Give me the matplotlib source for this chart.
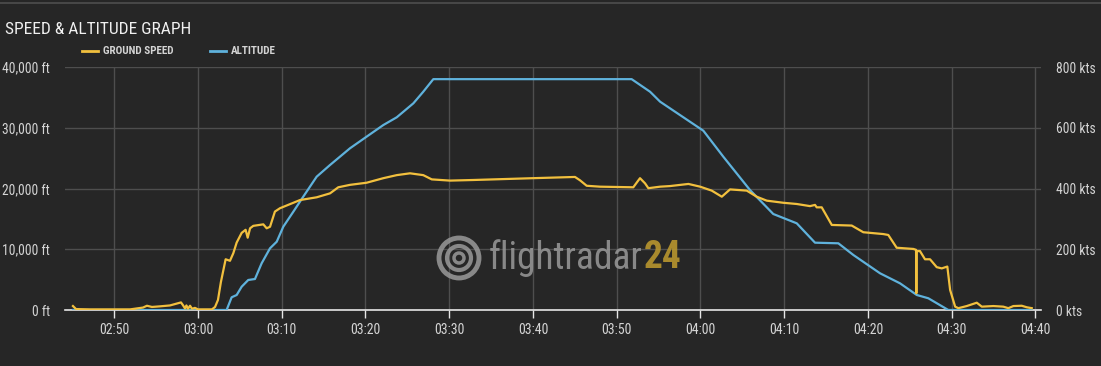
import matplotlib
matplotlib.use("Agg")
import matplotlib.pyplot as plt
import matplotlib.patches as mpatches
import pandas as pd
import logging
logging.getLogger('matplotlib.font_manager').setLevel(logging.ERROR)

FAM = ['Roboto Condensed', 'Roboto', 'DejaVu Sans']
plt.rcParams['font.family'] = FAM

DAY = "2020-01-01 "

speed_times = [
    "02:45:04", "02:45:26", "02:47:06", "02:51:53", "02:53:26", "02:53:54", "02:54:30",
    "02:55:27", "02:56:39", "02:57:58", "02:58:12", "02:58:27", "02:58:37", "02:58:48",
    "02:59:03", "02:59:17", "02:59:38", "03:00:00", "03:01:40", "03:02:02", "03:02:23",
    "03:02:44", "03:03:18", "03:03:49", "03:04:13", "03:04:37", "03:05:13", "03:05:41",
    "03:05:56", "03:06:13", "03:06:36", "03:07:48", "03:08:12", "03:08:36", "03:09:11",
    "03:09:47", "03:12:11", "03:14:10", "03:15:46", "03:16:45", "03:18:09", "03:20:08",
    "03:22:08", "03:23:44", "03:25:19", "03:26:54", "03:27:55", "03:30:06", "03:32:53",
    "03:40:02", "03:45:01", "03:45:37", "03:46:25", "03:48:00", "03:51:59", "03:52:26",
    "03:52:47", "03:53:23", "03:53:47", "03:55:11", "03:56:22", "03:58:34", "03:59:58",
    "04:01:21", "04:02:33", "04:03:32", "04:04:32", "04:05:32", "04:06:43", "04:07:55",
    "04:09:54", "04:11:30", "04:13:05", "04:13:41", "04:13:53", "04:14:29", "04:15:41",
    "04:18:04", "04:19:27", "04:21:50", "04:22:26", "04:23:26", "04:25:26", "04:25:45",
    "04:25:47", "04:25:49", "04:26:13", "04:26:49", "04:27:25", "04:28:13", "04:28:49",
    "04:29:29", "04:29:49", "04:30:25", "04:30:48", "04:31:48", "04:33:00", "04:33:36",
    "04:34:59", "04:36:10", "04:36:46", "04:37:22", "04:38:22", "04:38:58", "04:39:34",
]
speed_kts = [
    13, 3, 2, 2, 8, 14, 10,
    12, 15, 25, 16, 5, 15, 4,
    14, 4, 7, 2, 2, 10, 33,
    92, 167, 162, 187, 222, 254, 264,
    238, 269, 277, 282, 269, 274, 324,
    335, 362, 371, 384, 404, 412, 419,
    434, 444, 450, 444, 430, 426, 428,
    434, 438, 427, 409, 406, 404, 421,
    434, 417, 401, 406, 408, 415, 406,
    393, 373, 397, 395, 393, 373, 360,
    353, 349, 342, 346, 338, 338, 280,
    278, 256, 250, 247, 205, 201, 198,
    55, 194, 194, 167, 167, 141, 137,
    143, 66, 11, 6, 13, 24, 11,
    13, 11, 6, 13, 14, 9, 6,
]

alt_times = [
    "02:45:04", "03:03:25", "03:04:01", "03:04:37", "03:05:13", "03:06:00", "03:06:32",
    "03:06:48", "03:07:36", "03:08:36", "03:09:24", "03:10:11", "03:11:23", "03:12:34",
    "03:14:10", "03:15:46", "03:18:09", "03:20:08", "03:22:08", "03:23:44", "03:25:43",
    "03:26:54", "03:28:06", "03:51:47", "03:53:59", "03:55:11", "04:00:21", "04:02:44",
    "04:05:55", "04:08:42", "04:11:30", "04:13:41", "04:16:28", "04:18:16", "04:21:27",
    "04:23:50", "04:25:50", "04:27:13", "04:29:36", "04:39:34",
]
alt_ft = [
    0, 0, 2090, 2470, 3840, 4940, 5050,
    5100, 7690, 10160, 11240, 13710, 16180, 18650,
    21940, 23870, 26620, 28530, 30450, 31720, 34020,
    35930, 38000, 38000, 35930, 34290, 29510, 25230,
    19750, 15800, 14270, 11080, 10980, 9050, 6040,
    4390, 2470, 1930, 0, 0,
]

alt_ticks = [0, 10000, 20000, 30000, 40000]
alt_labels = ["0 ft", "10,000 ft", "20,000 ft", "30,000 ft", "40,000 ft"]
spd_ticks = [0, 200, 400, 600, 800]
spd_labels = ["0 kts", "200 kts", "400 kts", "600 kts", "800 kts"]
time_ticks = ["02:50", "03:00", "03:10", "03:20", "03:30", "03:40",
              "03:50", "04:00", "04:10", "04:20", "04:30", "04:40"]

BG = "#262626"
YEL = "#f2c03e"
BLU = "#5fb2dc"
GRID = "#4e4e4e"
TXT = "#d4d4d4"

st = pd.to_datetime([DAY + t for t in speed_times])
at = pd.to_datetime([DAY + t for t in alt_times])
tt = pd.to_datetime([DAY + t for t in time_ticks])

fig = plt.figure(figsize=(11.01, 3.66), dpi=100, facecolor=BG)
fig.patches.append(mpatches.Rectangle((0, 1 - 4 / 366), 1, 2 / 366, transform=fig.transFigure,
                                      facecolor="#474747", edgecolor="none"))

L, R, B, T = 65 / 1101, 1040.7 / 1101, (366 - 310) / 366, (366 - 67) / 366
ax = fig.add_axes([L, B, R - L, T - B])
ax.set_facecolor(BG)
ax2 = ax.twinx()

ax.set_ylim(0, 40000)
ax2.set_ylim(0, 800)
ax.set_xlim(pd.Timestamp(DAY + "02:44:07"), pd.Timestamp(DAY + "04:40:38"))

ax.set_yticks(alt_ticks)
ax.set_yticklabels(alt_labels)
ax2.set_yticks(spd_ticks)
ax2.set_yticklabels(spd_labels)
ax.set_xticks(tt)
ax.set_xticklabels(time_ticks)

ax.grid(True, color=GRID, linewidth=1.0)
ax.set_axisbelow(True)
for a in (ax, ax2):
    for s in a.spines.values():
        s.set_visible(False)
ax.spines['bottom'].set_visible(True)
ax.spines['bottom'].set_color("#e6e6e6")
ax.spines['bottom'].set_linewidth(1.2)

ax.tick_params(axis='x', colors="#e6e6e6", length=6, width=1, labelcolor=TXT, labelsize=10, pad=3)
ax.tick_params(axis='y', length=0, labelcolor=TXT, labelsize=9.8, pad=11)
ax2.tick_params(axis='y', length=0, labelcolor=TXT, labelsize=9.8, pad=11)

# watermark
wm = fig.text(489 / 1101, 1 - 258 / 366, "flightradar", fontsize=27, color="#9a9a9a", alpha=0.85,
              ha="left", va="center")
fig.canvas.draw()
bb = wm.get_window_extent(renderer=fig.canvas.get_renderer())
fig.text(bb.x1 / 1101 + 1 / 1101, 1 - 258 / 366, "24", fontsize=27, color="#b8962e", alpha=0.9,
         fontweight="bold", ha="left", va="center")
for r, lw in ((20, 3.5), (12, 3), (5, 2.5)):
    c = mpatches.Circle((459, 366 - 258), r, transform=None, fill=False,
                        edgecolor="#9a9a9a", linewidth=lw, alpha=0.85)
    fig.patches.append(c)

ax.plot(at, alt_ft, color=BLU, linewidth=1.6, zorder=3)
ax2.plot(st, speed_kts, color=YEL, linewidth=1.6, zorder=4)

fig.text(5 / 1101, 1 - 29 / 366, "SPEED & ALTITUDE GRAPH", fontsize=12.5, color="#f0f0f0",
         ha="left", va="center")
fig.lines.append(plt.Line2D([82 / 1101, 98 / 1101], [1 - 51 / 366] * 2, color=YEL, linewidth=2,
                            transform=fig.transFigure))
fig.text(103 / 1101, 1 - 51 / 366, "GROUND SPEED", fontsize=8, fontweight="bold", color=TXT,
         ha="left", va="center")
fig.lines.append(plt.Line2D([210 / 1101, 226 / 1101], [1 - 51 / 366] * 2, color=BLU, linewidth=2,
                            transform=fig.transFigure))
fig.text(231 / 1101, 1 - 51 / 366, "ALTITUDE", fontsize=8, fontweight="bold", color=TXT,
         ha="left", va="center")

fig.savefig("out.png", dpi=100, facecolor=BG)
